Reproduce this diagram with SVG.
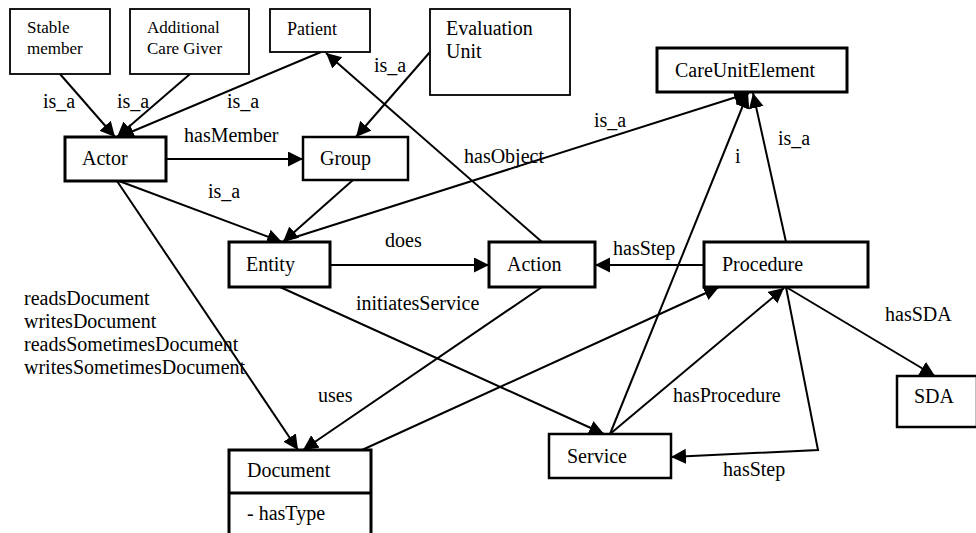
<svg xmlns="http://www.w3.org/2000/svg" width="976" height="533" viewBox="0 0 976 533">
<defs>
  <marker id="ah" markerUnits="userSpaceOnUse" markerWidth="16" markerHeight="16" refX="15" refY="7.5" orient="auto">
    <path d="M0,0 L15,7.5 L0,15 z" fill="#000"/>
  </marker>
</defs>
<rect width="976" height="533" fill="#fff"/>

<g id="connectors" fill="none" stroke="#000" stroke-width="2" marker-end="url(#ah)">
  <line x1="60" y1="74" x2="115" y2="137"/>
  <line x1="190" y1="74" x2="117" y2="137"/>
  <line x1="321" y1="52" x2="119" y2="137"/>
  <line x1="542" y1="242" x2="326" y2="53"/>
  <line x1="430" y1="52" x2="356" y2="137"/>
  <line x1="166" y1="159" x2="303" y2="159"/>
  <line x1="119" y1="181" x2="282" y2="242"/>
  <line x1="353" y1="180" x2="283" y2="242"/>
  <line x1="283" y1="241" x2="749" y2="93"/>
  <line x1="117" y1="181" x2="298" y2="450"/>
  <line x1="542" y1="287" x2="303" y2="450"/>
  <line x1="362" y1="450" x2="719" y2="287"/>
  <line x1="330" y1="265" x2="489" y2="265"/>
  <line x1="704" y1="265" x2="595" y2="265"/>
  <line x1="280" y1="287" x2="604" y2="434"/>
  <line x1="610" y1="434" x2="748" y2="93"/>
  <line x1="786" y1="242" x2="753" y2="93"/>
  <line x1="610" y1="434" x2="784" y2="288"/>
  <polyline points="786,287 818,450 671,457"/>
  <line x1="786" y1="287" x2="935" y2="376"/>
</g>
<g id="connector-labels" font-family="Tinos, Times New Roman, serif" font-size="20" fill="#000">
  <text x="43" y="108">is_a</text>
  <text x="117" y="108">is_a</text>
  <text x="227" y="108">is_a</text>
  <text x="374" y="72">is_a</text>
  <text x="184" y="142">hasMember</text>
  <text x="208" y="198">is_a</text>
  <text x="464" y="163">hasObject</text>
  <text x="594" y="127">is_a</text>
  <text x="735" y="163">i</text>
  <text x="778" y="145">is_a</text>
  <text x="385" y="247">does</text>
  <text x="613" y="255">hasStep</text>
  <text x="356" y="310">initiatesService</text>
  <text x="318" y="402">uses</text>
  <text x="673" y="402">hasProcedure</text>
  <text x="723" y="476">hasStep</text>
  <text x="885" y="321">hasSDA</text>
  <text x="24" y="305">readsDocument</text>
  <text x="24" y="328">writesDocument</text>
  <text x="24" y="351">readsSometimesDocument</text>
  <text x="24" y="374">writesSometimesDocument</text>
</g>

<g id="nodes" font-family="Tinos, Times New Roman, serif" font-size="20">
<g id="stable-member">
  <rect x="10" y="9" width="100" height="65" fill="#fff" stroke="#000" stroke-width="1.8"/>
  <text font-size="17" x="27" y="33">Stable</text>
  <text font-size="17" x="27" y="54">member</text>
</g>
<g id="additional-care-giver">
  <rect x="130" y="9" width="119" height="65" fill="#fff" stroke="#000" stroke-width="1.8"/>
  <text font-size="17" x="147" y="33">Additional</text>
  <text font-size="17" x="147" y="54">Care Giver</text>
</g>
<g id="patient">
  <rect x="270" y="9" width="100" height="43" fill="#fff" stroke="#000" stroke-width="1.8"/>
  <text font-size="18" x="287" y="35">Patient</text>
</g>
<g id="evaluation-unit">
  <rect x="430" y="9" width="140" height="86" fill="#fff" stroke="#000" stroke-width="1.8"/>
  <text x="446" y="35">Evaluation</text>
  <text x="446" y="58">Unit</text>
</g>
<g id="actor">
  <rect x="65" y="137" width="101" height="44" fill="#fff" stroke="#000" stroke-width="3"/>
  <text x="82" y="165">Actor</text>
</g>
<g id="group">
  <rect x="303" y="137" width="105" height="43" fill="#fff" stroke="#000" stroke-width="2.5"/>
  <text x="320" y="165">Group</text>
</g>
<g id="care-unit-element">
  <rect x="657" y="48" width="190" height="44" fill="#fff" stroke="#000" stroke-width="3"/>
  <text x="675" y="77">CareUnitElement</text>
</g>
<g id="entity">
  <rect x="229" y="242" width="101" height="45" fill="#fff" stroke="#000" stroke-width="3"/>
  <text x="246" y="271">Entity</text>
</g>
<g id="action">
  <rect x="489" y="242" width="106" height="45" fill="#fff" stroke="#000" stroke-width="3"/>
  <text x="507" y="271">Action</text>
</g>
<g id="procedure">
  <rect x="704" y="242" width="164" height="45" fill="#fff" stroke="#000" stroke-width="3"/>
  <text x="722" y="271">Procedure</text>
</g>
<g id="sda">
  <rect x="897" y="376" width="80" height="51" fill="#fff" stroke="#000" stroke-width="2.5"/>
  <text x="914" y="403">SDA</text>
</g>
<g id="service">
  <rect x="549" y="434" width="122" height="44" fill="#fff" stroke="#000" stroke-width="2.5"/>
  <text x="567" y="463">Service</text>
</g>
<g id="document">
  <rect x="229" y="450" width="142" height="95" fill="#fff" stroke="#000" stroke-width="3"/>
  <line x1="229" y1="493" x2="371" y2="493" stroke="#000" stroke-width="3"/>
  <text x="247" y="477">Document</text>
  <text x="247" y="520">- hasType</text>
</g>
</g>
</svg>
